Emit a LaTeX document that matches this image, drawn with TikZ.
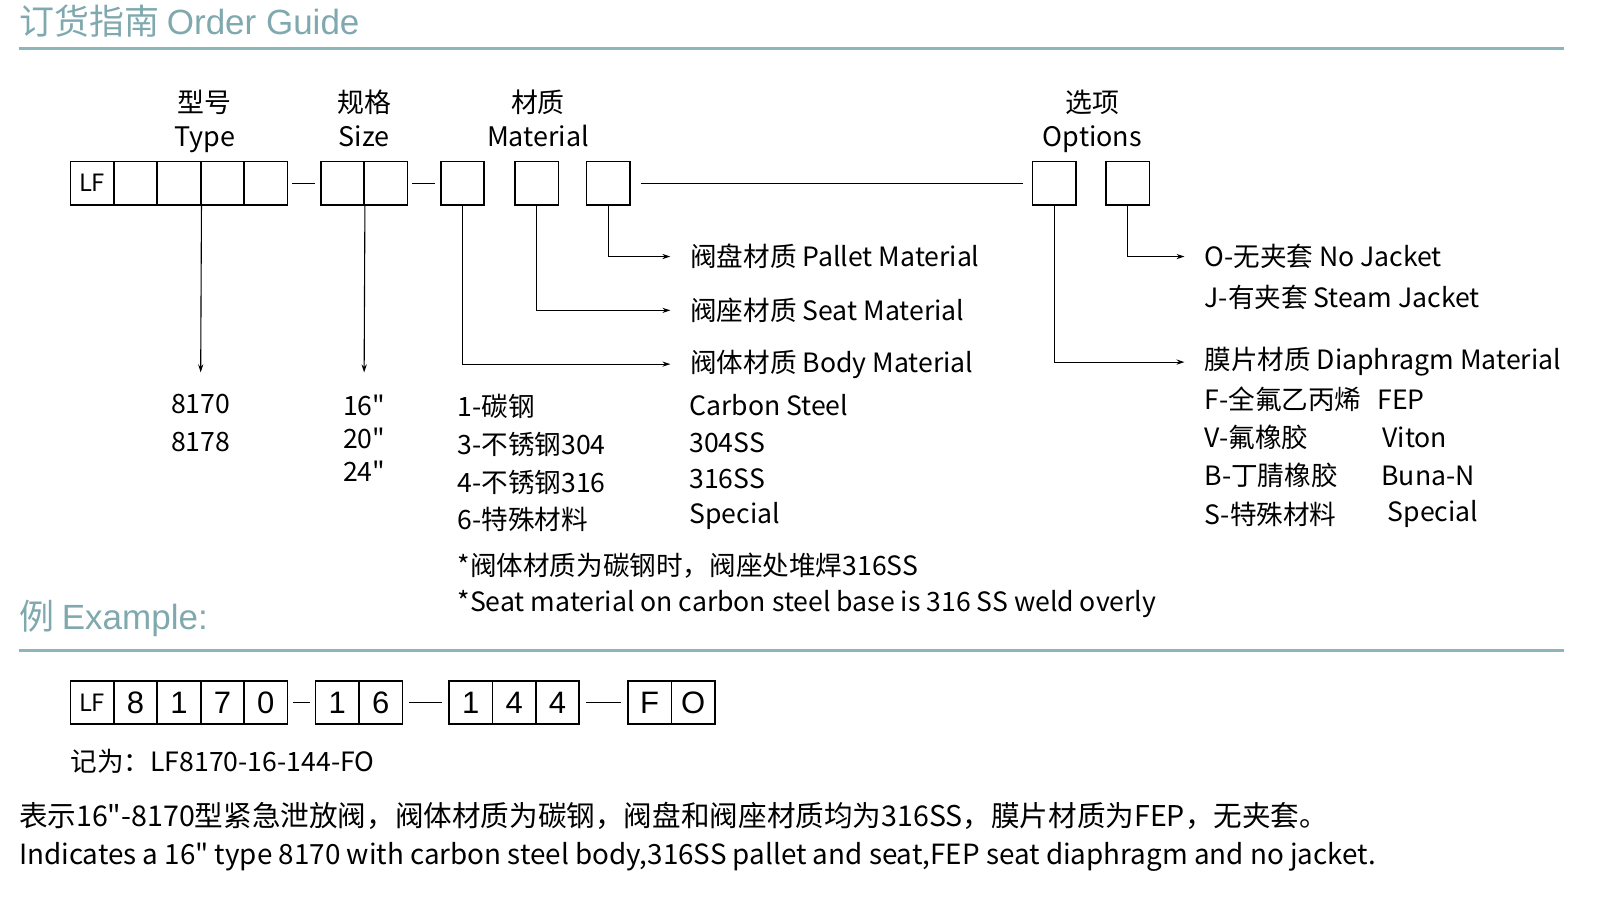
\documentclass[tikz,border=0pt]{standalone}
\usepackage{fontspec}
\setmainfont{Noto Sans CJK SC}[Ligatures=TeXOff]
\newfontfamily\arialfont{Liberation Sans}[Ligatures=TeXOff]
\usetikzlibrary{arrows.meta}
\definecolor{guideteal}{HTML}{7FA9AE}
\definecolor{ruleteal}{HTML}{8DB6BA}
\tikzset{
  cell/.style={draw, line width=0.8pt, minimum width=21.7pt, minimum height=21.7pt, inner sep=0pt},
  numcell/.style={cell, font=\arialfont\fontsize{15.5pt}{18pt}\selectfont},
  lfcell/.style={cell, font=\fontsize{11.9pt}{13pt}\selectfont},
  joint/.style={line width=0.6pt},
  arr/.style={-{Stealth[length=4pt,width=2.6pt]}, line width=0.55pt},
  head/.style={anchor=base, inner sep=0pt, font=\fontsize{13.45pt}{17pt}\selectfont},
  txt/.style={anchor=west, inner sep=0pt, font=\fontsize{13.3pt}{16pt}\selectfont},
  mid/.style={inner sep=0pt, font=\fontsize{13.3pt}{16pt}\selectfont},
  tip/.style={anchor=west, inner xsep=9.8pt, inner ysep=0pt, font=\fontsize{13.3pt}{16pt}\selectfont},
  big/.style={anchor=west, inner sep=0pt, font=\fontsize{13.9pt}{16pt}\selectfont},
  title/.style={anchor=west, inner sep=0pt, text=guideteal, font=\fontsize{17.5pt}{20pt}\selectfont},
  rule/.style={ruleteal, line width=1.5pt}
}
\begin{document}
\begin{tikzpicture}[x=0.5172pt,y=-0.5172pt]
  \useasboundingbox (0,0) rectangle (1566,870);
  % title
  \node[title] (ttl) at (18,20) {订货指南 {\arialfont Order Guide}};
  \draw[rule] (18,47) -- (1512,47);
  % headers
  \foreach \n/\x/\zh/\en in {type/198/型号/Type, size/352/规格/Size, mat/520/材质/Material, opt/1056/选项/Options} {
    \node[head] (h\n) at (\x,109) {\zh};
    \node[head] (h\n en) at (\x,142) {\en};
  }
  % code boxes
  \node[lfcell] (lf) at (89,177) {LF};
  \foreach \i/\x in {1/131, 2/173, 3/215, 4/257}
    \node[cell] (t\i) at (\x,177) {};
  \node[cell] (s1) at (331,177) {};
  \node[cell] (s2) at (373,177) {};
  \node[cell] (mb) at (447,177) {};
  \node[cell] (ms) at (519,177) {};
  \node[cell] (mp) at (588,177) {};
  \node[cell] (od) at (1019,177) {};
  \node[cell] (oj) at (1090,177) {};
  \draw[joint, shorten <=2pt, shorten >=2.5pt] (t4.east) -- (s1.west);
  \draw[joint, shorten <=2pt, shorten >=2.5pt] (s2.east) -- (mb.west);
  \draw[joint, shorten <=5pt, shorten >=4.5pt] (mp.east) -- (od.west);
  % type and size
  \coordinate (typeend) at (194,360);
  \coordinate (sizeend) at (352,360);
  \draw[arr] (t2.south east) -- (typeend);
  \draw[arr] (s1.south east) -- (sizeend);
  \node[mid] (ty1) at (194,391) {8170};
  \node[mid] (ty2) at (194,427) {8178};
  \foreach \n/\y in {16/392, 20/424, 24/456}
    \node[mid] (sz\n) at (352,\y) {\n"};
  % material
  \node[tip] (lpallet) at (648,248) {阀盘材质 Pallet Material};
  \node[tip] (lseat) at (648,300) {阀座材质 Seat Material};
  \node[tip] (lbody) at (648,352) {阀体材质 Body Material};
  \draw[arr] (mp.south) |- (lpallet.west);
  \draw[arr] (ms.south) |- (lseat.west);
  \draw[arr] (mb.south) |- (lbody.west);
  \node[txt] (m1) at (442,393) {1-碳钢};
  \node[txt] (m3) at (442,430) {3-不锈钢304};
  \node[txt] (m4) at (442,466) {4-不锈钢316};
  \node[txt] (m6) at (442,502) {6-特殊材料};
  \node[txt] (e1) at (666,392) {Carbon Steel};
  \node[txt] (e3) at (666,428) {304SS};
  \node[txt] (e4) at (666,463) {316SS};
  \node[txt] (e6) at (666,499) {Special};
  \node[txt] (note1) at (442,547) {*阀体材质为碳钢时，阀座处堆焊316SS};
  \node[txt] (note2) at (442,584) {*Seat material on carbon steel base is 316 SS weld overly};
  % options
  \node[tip] (ljacket) at (1145,248) {O-无夹套 No Jacket};
  \node[txt] (steam) at (1164,287) {J-有夹套 Steam Jacket};
  \node[tip] (ldia) at (1145,350) {膜片材质 Diaphragm Material};
  \draw[arr] (oj.south) |- (ljacket.west);
  \draw[arr] (od.south) |- (ldia.west);
  \node[txt] (dF) at (1164,386) {F-全氟乙丙烯};
  \node[txt] (dV) at (1164,423) {V-氟橡胶};
  \node[txt] (dB) at (1164,460) {B-丁腈橡胶};
  \node[txt] (dS) at (1164,497) {S-特殊材料};
  \node[txt] (nF) at (1331,386) {FEP};
  \node[txt] (nV) at (1336,423) {Viton};
  \node[txt] (nB) at (1335,460) {Buna-N};
  \node[txt] (nS) at (1341,497) {Special};
  % example
  \node[title] (ex) at (18,598) {例 {\arialfont Example:}};
  \draw[rule] (18,629) -- (1512,629);
  \node[lfcell] (x1) at (89,679) {LF};
  \foreach \i/\x/\c in {2/131/8, 3/173/1, 4/215/7, 5/257/0, 6/326/1, 7/368/6, 8/455/1, 9/497/4, 10/539/4, 11/628/F, 12/670/O}
    \node[numcell] (x\i) at (\x,679) {\c};
  \draw[joint, shorten <=2.5pt, shorten >=2.5pt] (x5.east) -- (x6.west);
  \draw[joint, shorten <=3pt, shorten >=3pt] (x7.east) -- (x8.west);
  \draw[joint, shorten <=3pt, shorten >=3pt] (x10.east) -- (x11.west);
  \node[txt] (rec) at (68,736) {记为：LF8170-16-144-FO};
  \node[big, font=\fontsize{14.3pt}{16pt}\selectfont] (zh) at (18,789) {表示16"-8170型紧急泄放阀，阀体材质为碳钢，阀盘和阀座材质均为316SS，膜片材质为FEP，无夹套。};
  \node[big] (en) at (18,828) {Indicates a 16" type 8170 with carbon steel body,316SS pallet and seat,FEP seat diaphragm and no jacket.};
\end{tikzpicture}
\end{document}
